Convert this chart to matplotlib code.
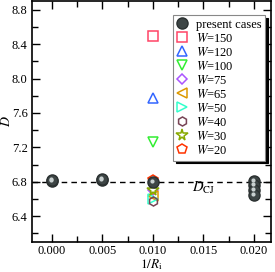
"""D versus 1/R_i with present cases and W cases."""
import matplotlib
matplotlib.use("Agg")
import matplotlib.pyplot as plt
from matplotlib.ticker import MultipleLocator

plt.rcParams["font.family"] = ["Liberation Serif", "DejaVu Serif"]
plt.rcParams["mathtext.fontset"] = "stix"

# present cases
present_x = [0.000, 0.000, 0.005, 0.005, 0.010, 0.020, 0.020, 0.020, 0.020]
present_d = [6.81, 6.82, 6.82, 6.83, 6.80, 6.81, 6.76, 6.70, 6.65]

# W cases (all at 1/R_i = 0.010)
w_labels = ["150", "120", "100", "75", "65", "50", "40", "30", "20"]
w_x = [0.010] * 9
w_d = [8.50, 7.77, 7.26, 6.71, 6.63, 6.60, 6.58, 6.71, 6.82]
w_markers = ["s", "^", "v", "D", "<", ">", "h", "*", "p"]
w_colors = ["#ff4466", "#3366ff", "#33ee33", "#aa55ff", "#dd9900",
            "#33ffcc", "#774455", "#88aa00", "#ff3300"]
w_sizes = [6.5, 7.5, 7.5, 5.5, 7.5, 7.5, 6.5, 8.5, 7.5]

d_cj = 6.80

fig = plt.figure(figsize=(2.75, 2.72), dpi=100)
ax = fig.add_axes([0.116, 0.110, 0.869, 0.886])

ax.axhline(d_cj, color="k", ls=(0, (4, 3)), lw=1.0, zorder=1)
ax.text(0.0150, 6.73, r"$D_{\rm CJ}$", fontsize=10.5, ha="center", va="center")

for lab, x, d, m, c, s in zip(w_labels, w_x, w_d, w_markers, w_colors, w_sizes):
    ax.plot(x, d, m, ms=s, mfc="none", mec=c, mew=1.1, ls="none",
            label=rf"$W$=" + lab, zorder=3)

# shaded sphere look: dark body + lighter highlight
ax.plot(present_x, present_d, "o", ms=8, color="#3d4545", mec="#2a3030",
        ls="none", zorder=4, label="present cases")
ax.plot([x - 0.0001 for x in present_x], [d + 0.012 for d in present_d], "o",
        ms=3, color="#c8d0d0", mec="none", ls="none", zorder=5)

ax.set_xlim(-0.002, 0.0217)
ax.set_ylim(6.1, 8.9)
ax.xaxis.set_major_locator(MultipleLocator(0.005))
ax.xaxis.set_minor_locator(MultipleLocator(0.0025))
ax.yaxis.set_major_locator(MultipleLocator(0.4))
ax.yaxis.set_minor_locator(MultipleLocator(0.2))
ax.xaxis.set_major_formatter(matplotlib.ticker.FormatStrFormatter("%.3f"))
ax.yaxis.set_major_formatter(matplotlib.ticker.FormatStrFormatter("%.1f"))
ax.tick_params(which="both", direction="in", top=True, right=True,
               labelsize=9, width=1.0, pad=3)
ax.tick_params(axis="x", pad=2)
ax.tick_params(which="major", length=6)
ax.tick_params(which="minor", length=4)
for sp in ax.spines.values():
    sp.set_linewidth(1.2)

ax.set_xlabel(r"$1/R_{\rm i}$", fontsize=9.5, labelpad=0)
ax.set_ylabel(r"$D$", fontsize=10, labelpad=-1)

handles, labels = ax.get_legend_handles_labels()
order = [9] + list(range(9))
leg = ax.legend([handles[i] for i in order], [labels[i] for i in order],
                loc="upper right", bbox_to_anchor=(0.975, 0.942),
                borderaxespad=0, fontsize=9, labelspacing=0.08,
                handletextpad=0.6, handlelength=0.9, borderpad=0.3,
                fancybox=False, framealpha=1, edgecolor="#888888",
                shadow={"color": "k", "alpha": 1})
leg.get_frame().set_linewidth(0.8)

fig.savefig("out.png", dpi=100)
